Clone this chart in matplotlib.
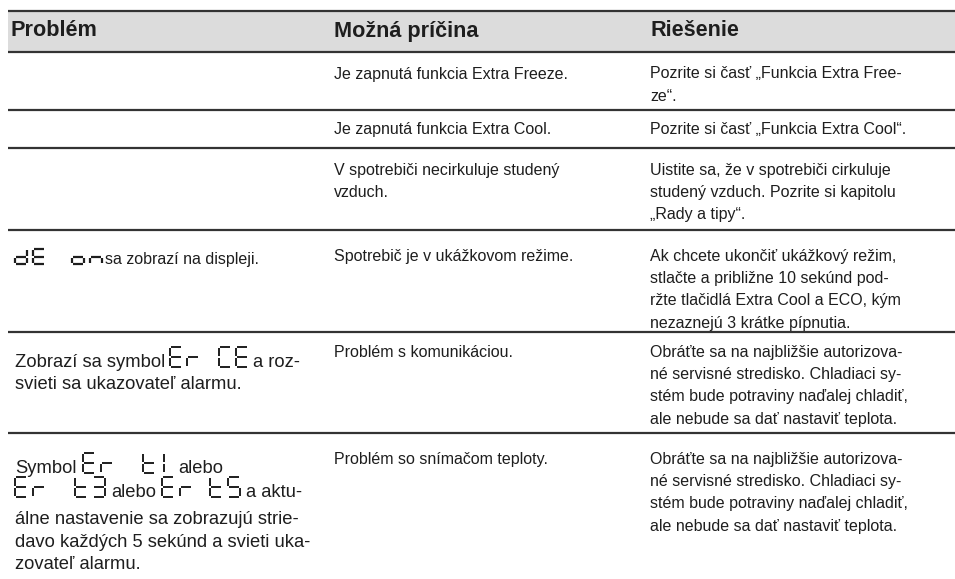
import matplotlib
matplotlib.use("Agg")
import matplotlib.pyplot as plt

plt.rcParams['font.family'] = ['Liberation Sans', 'DejaVu Sans']

# table content
headers = ["Problém", "Možná príčina", "Riešenie"]

causes = [
    ["Je zapnutá funkcia Extra Freeze."],
    ["Je zapnutá funkcia Extra Cool."],
    ["V spotrebiči necirkuluje studený", "vzduch."],
    ["Spotrebič je v ukážkovom režime."],
    ["Problém s komunikáciou."],
    ["Problém so snímačom teploty."],
]

solutions = [
    ["Pozrite si časť „Funkcia Extra Free-", "ze“."],
    ["Pozrite si časť „Funkcia Extra Cool“."],
    ["Uistite sa, že v spotrebiči cirkuluje", "studený vzduch. Pozrite si kapitolu",
     "„Rady a tipy“."],
    ["Ak chcete ukončiť ukážkový režim,", "stlačte a približne 10 sekúnd pod-",
     "ržte tlačidlá Extra Cool a ECO, kým", "nezaznejú 3 krátke pípnutia."],
    ["Obráťte sa na najbližšie autorizova-", "né servisné stredisko. Chladiaci sy-",
     "stém bude potraviny naďalej chladiť,", "ale nebude sa dať nastaviť teplota."],
    ["Obráťte sa na najbližšie autorizova-", "né servisné stredisko. Chladiaci sy-",
     "stém bude potraviny naďalej chladiť,", "ale nebude sa dať nastaviť teplota."],
]

# problem column, line by line: ("txt", text) or ("seg", display code)
problems = [
    [],
    [],
    [],
    [[("seg", "dE on"), ("txt", "sa zobrazí na displeji.")]],
    [[("txt", "Zobrazí sa symbol"), ("seg", "Er CE"), ("txt", "a roz-")],
     [("txt", "svieti sa ukazovateľ alarmu.")]],
    [[("txt", "Symbol"), ("seg", "Er t1"), ("txt", "alebo")],
     [("seg", "Er t3"), ("txt", "alebo"), ("seg", "Er t5"), ("txt", "a aktu-")],
     [("txt", "álne nastavenie sa zobrazujú strie-")],
     [("txt", "davo každých 5 sekúnd a svieti uka-")],
     [("txt", "zovateľ alarmu.")]],
]

row_lines = [11, 52, 110, 148, 230, 332, 433]
row_tops = [52, 110, 148, 230, 332, 433]

SEGMENTS = {
    'd': "bcdeg", 'E': "adefg", 'o': "cdeg", 'n': "ceg", 'r': "eg",
    'C': "adef", 't': "defg", '1': "ef", '3': "abcdg", '5': "acdfg",
}

TXT = '#1e1e1e'
FS = 11.5
FS_BIG = 13.2


def seg_char(ax, x0, yb, ch, w, h, lw):
    g = 1.0
    top, mid = yb - h, yb - h / 2
    xr = x0 + w
    if ch == '1':
        x0 = x0 + 3
    pts = {
        'a': ((x0 + g, xr - g), (top, top)),
        'b': ((xr, xr), (top + g, mid - g)),
        'c': ((xr, xr), (mid + g, yb - g)),
        'd': ((x0 + g, xr - g), (yb, yb)),
        'e': ((x0, x0), (mid + g, yb - g)),
        'f': ((x0, x0), (top + g, mid - g)),
        'g': ((x0 + g, xr - g), (mid, mid)),
    }
    for s in SEGMENTS[ch]:
        xs, ys = pts[s]
        ax.plot(xs, ys, color=TXT, lw=lw, solid_capstyle='butt')


def seg_word(ax, x, yb, word, st):
    cx = x
    space = st['space'].get(word, st['space']['*'])
    for ch in word:
        if ch == ' ':
            cx += space
            continue
        seg_char(ax, cx, yb, ch, st['w'], st['h'], st['lw'])
        cx += st['pitch']
    return cx - st['pitch'] + st['w']


fig = plt.figure(figsize=(9.55, 5.79), dpi=100)
ax = fig.add_axes([0, 0, 1, 1])
ax.set_xlim(0, 955)
ax.set_ylim(579, 0)
ax.axis('off')
renderer = fig.canvas.get_renderer()


def put_text(x, y, s, fs):
    t = ax.text(x, y, s, fontsize=fs, color=TXT, va='baseline')
    return x + t.get_window_extent(renderer).width


# header band and rules
ax.fill_between([8, 955], 11, 52, color='#dcdcdc', lw=0)
for y in row_lines:
    ax.plot([8, 955], [y, y], color='#333333', lw=1.6, solid_capstyle='butt')

for x, h in zip([10, 334, 650], headers):
    ax.text(x, 31, h, fontsize=15.6, fontweight='bold', color=TXT, va='center')

LS = 22.2
offsets = [26.5, 24, 26.5, 31, 25, 31]
for top, off, cl, sl in zip(row_tops, offsets, causes, solutions):
    for i, line in enumerate(cl):
        put_text(334, top + off + i * LS, line, FS)
    for i, line in enumerate(sl):
        put_text(650, top + off + i * LS, line, FS)

# problem column: text runs mixed with seven-segment codes
prob_style = {
    3: dict(fs=FS, base=[264], w=12, h=15, pitch=18, space={'*': 21}, lw=1.6, gap=3),
    4: dict(fs=FS_BIG, base=[367, 389], w=12, h=20, pitch=17, space={'*': 15}, lw=1.4, gap=5),
    5: dict(fs=FS_BIG, base=[473, 497, 524, 547, 569], w=12, h=20, pitch=18,
            space={'*': 24, 'Er t5': 12}, lw=1.4, gap=6),
}
for r, lines in enumerate(problems):
    if not lines:
        continue
    st = prob_style[r]
    for line, yb in zip(lines, st['base']):
        x = 15
        for kind, s in line:
            if kind == 'txt':
                x = put_text(x, yb, s, st['fs']) + st['gap']
            else:
                x = seg_word(ax, x, yb, s, st) + st['gap']

fig.savefig('out.png', dpi=100)
